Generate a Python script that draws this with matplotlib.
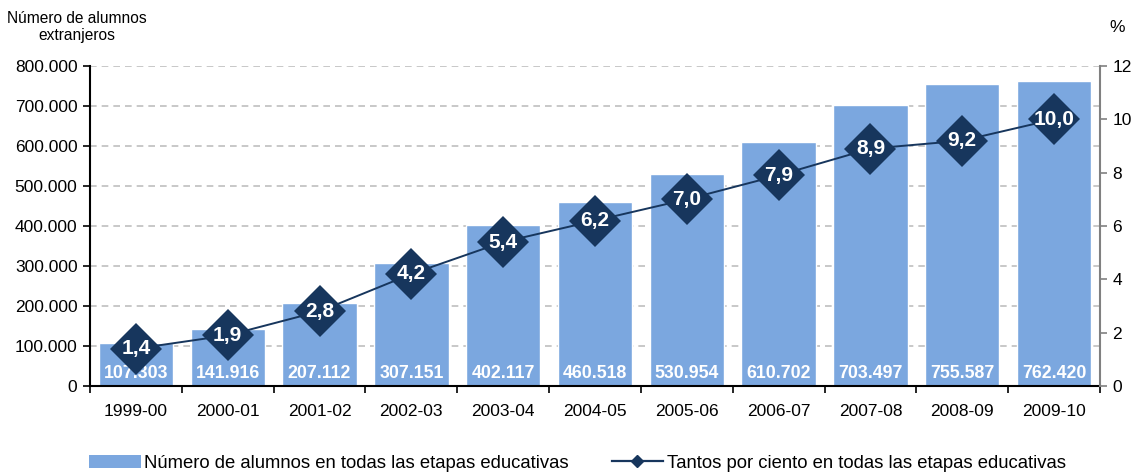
import matplotlib
matplotlib.use("Agg")
import matplotlib.pyplot as plt
from matplotlib.lines import Line2D
from matplotlib.patches import Patch
import numpy as np

plt.rcParams['font.family'] = ['Liberation Sans', 'DejaVu Sans']

categories = ["1999-00", "2000-01", "2001-02", "2002-03", "2003-04", "2004-05",
              "2005-06", "2006-07", "2007-08", "2008-09", "2009-10"]
alumnos = [107303, 141916, 207112, 307151, 402117, 460518, 530954, 610702,
           703497, 755587, 762420]
porcentaje = [1.4, 1.9, 2.8, 4.2, 5.4, 6.2, 7.0, 7.9, 8.9, 9.2, 10.0]

bar_color = "#7BA7DF"
navy = "#17365D"

def fmt_thousands(v):
    return f"{int(round(v)):,}".replace(",", ".")

fig = plt.figure(figsize=(11.37, 4.75), dpi=100)
ax = fig.add_axes([90/1137, 89/475, 1010/1137, 320/475])
x = np.arange(len(categories))

ax.bar(x, alumnos, width=0.81, color=bar_color, edgecolor="white", linewidth=1, zorder=2)
ax.set_xlim(-0.5, len(categories) - 0.5)
ax.set_ylim(0, 800000)
ax.set_yticks(np.arange(0, 800001, 100000))
ax.set_yticklabels([fmt_thousands(v) for v in np.arange(0, 800001, 100000)], fontsize=12.5)
ax.yaxis.grid(True, linestyle=(0, (4, 3)), color="#BFBFBF", linewidth=1.2, zorder=0)
ax.set_axisbelow(True)

ax.set_xticks(x)
ax.set_xticklabels(categories, fontsize=12.5)
ax.tick_params(axis="x", which="major", length=0, pad=13)
ax.set_xticks(np.arange(-0.5, len(categories), 1), minor=True)
ax.tick_params(axis="x", which="minor", length=5, width=1.2, color="black", direction="out")
ax.tick_params(axis="y", length=5, width=1.2, direction="out", pad=4)

for s in ["top", "right"]:
    ax.spines[s].set_visible(False)
ax.spines["left"].set_linewidth(1.5)
ax.spines["bottom"].set_linewidth(1.5)

for xi, v in zip(x, alumnos):
    ax.text(xi, 32500, fmt_thousands(v), ha="center", va="center", color="white",
            fontsize=12.8, fontweight="bold", zorder=3)

ax2 = ax.twinx()
ax2.set_ylim(0, 12)
ax2.set_yticks(np.arange(0, 13, 2))
ax2.set_yticklabels([str(v) for v in range(0, 13, 2)], fontsize=12.5)
ax2.tick_params(axis="y", length=5, width=1.2, direction="out", color="#808080", pad=4)
for s in ["top", "left", "bottom"]:
    ax2.spines[s].set_visible(False)
ax2.spines["right"].set_color("#808080")
ax2.spines["right"].set_linewidth(1.5)

ax2.plot(x, porcentaje, color=navy, linewidth=1.4, marker="D", markersize=26.5,
         markerfacecolor=navy, markeredgecolor=navy, markeredgewidth=0, zorder=4)
for xi, p in zip(x, porcentaje):
    ax2.text(xi, p, f"{p:.1f}".replace(".", ","), ha="center", va="center",
             color="white", fontsize=15, fontweight="bold", zorder=5)

fig.text(77/1137, 1 - 27/475, "Número de alumnos\nextranjeros", ha="center", va="center",
         fontsize=11.2, linespacing=1.2)
fig.text(1117/1137, 1 - 27/475, "%", ha="center", va="center", fontsize=12.5)

handles = [Patch(facecolor=bar_color, edgecolor="none"),
           Line2D([0], [0], color=navy, linewidth=1.6, marker="D", markersize=6,
                  markerfacecolor=navy)]
labels = ["Número de alumnos en todas las etapas educativas",
          "Tantos por ciento en todas las etapas educativas"]
fig.legend(handles, labels, loc="center left", bbox_to_anchor=(89/1137, 1 - 463/475), ncol=2,
           frameon=False, fontsize=13.3, handlelength=2.8, handleheight=0.7,
           handletextpad=0.2, columnspacing=2.3, borderpad=0, borderaxespad=0)

fig.savefig("out.png", dpi=100)
